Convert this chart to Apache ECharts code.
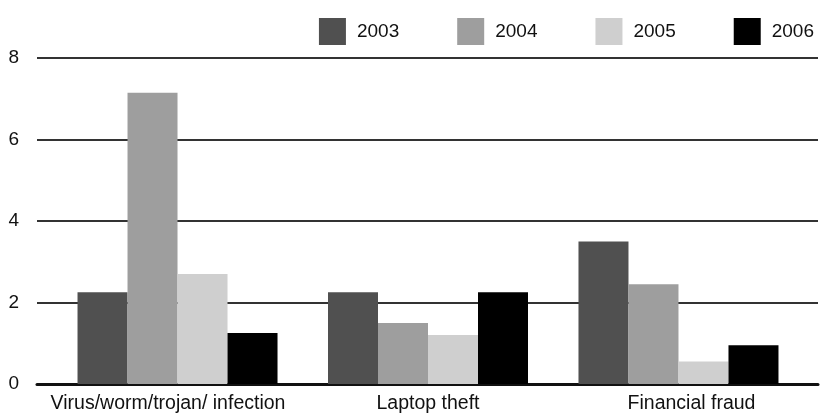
<!DOCTYPE html>
<html>
<head>
<meta charset="utf-8">
<script src="https://cdn.jsdelivr.net/npm/echarts@6/dist/echarts.min.js"></script>
<style>
  html, body { margin: 0; padding: 0; background: #fff; }
  #main { width: 822px; height: 417px; }
</style>
</head>
<body>
<div id="main"></div>
<script>
// categories and values
var categories = ['Virus/worm/trojan/ infection', 'Laptop theft', 'Financial fraud'];
var years = ['2003', '2004', '2005', '2006'];
var s2003 = [2.25, 2.25, 3.5];
var s2004 = [7.15, 1.5, 2.45];
var s2005 = [2.7, 1.2, 0.55];
var s2006 = [1.25, 2.25, 0.95];
var yTicks = [0, 2, 4, 6, 8];

var colors = ['#505050', '#9e9e9e', '#cfcfcf', '#000000'];
var values = [s2003, s2004, s2005, s2006];

function toPoints(arr) {
    return arr.map(function (v, i) { return [i, v]; });
}

var myChart = echarts.init(document.getElementById('main'));

var option = {
    animation: false,
    textStyle: { fontFamily: 'Liberation Sans, Arial, sans-serif' },
    legend: {
        data: years,
        right: 3,
        top: 13,
        icon: 'rect',
        itemWidth: 27,
        itemHeight: 27,
        itemGap: 58,
        textStyle: { fontSize: 19, color: '#111', padding: [0, 0, 0, 6] }
    },
    grid: { left: 37, right: 4, top: 58, bottom: 33 },
    xAxis: {
        type: 'value',
        min: -0.561,
        max: 2.557,
        splitLine: { show: false },
        axisTick: { show: false },
        axisLine: { show: true, lineStyle: { color: '#111', width: 3 } },
        axisLabel: {
            // the labels in the source sit a little off the bar group centres
            customValues: [-0.038, 1, 2.052],
            formatter: function (v) { return categories[Math.round(v)]; },
            fontSize: 19.5,
            color: '#111',
            margin: 10
        }
    },
    yAxis: {
        type: 'value',
        min: yTicks[0],
        max: yTicks[yTicks.length - 1],
        interval: 2,
        axisLine: { show: false },
        axisTick: { show: false },
        axisLabel: { fontSize: 19, color: '#111', margin: 18 },
        splitLine: { lineStyle: { color: '#333', width: 2 } }
    },
    series: years.map(function (y, k) {
        return {
            name: y,
            type: 'bar',
            barWidth: 50,
            barGap: '0%',
            itemStyle: { color: colors[k] },
            data: toPoints(values[k])
        };
    })
};

myChart.setOption(option);
</script>
</body>
</html>
